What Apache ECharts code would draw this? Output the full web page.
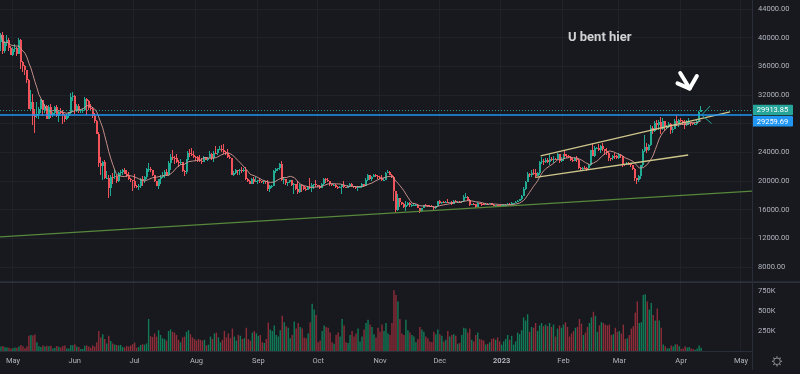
<!DOCTYPE html>
<html><head><meta charset="utf-8">
<script src="https://cdn.jsdelivr.net/npm/echarts@6/dist/echarts.min.js"></script>
<style>html,body{margin:0;padding:0;background:#17191e;}#c{width:800px;height:374px;}</style>
</head><body><div id="c"></div>
<script>
// ---- categories: one per day, index 0 = 2022-04-25, through 2023-05-06 ----
const startDate = '2022-04-25';
const dayCount = 377;
const monthNames = ['Jan','Feb','Mar','Apr','May','Jun','Jul','Aug','Sep','Oct','Nov','Dec'];

// ---- daily candles [open, high, low, close] ----
const apr22 = [[39450,40616,38200,40426],[40426,40797,37702,38112],[38112,39474,37881,39235],[39235,40372,38881,39742],[39742,39925,38175,38596],[38596,38795,37578,37630]];
const may22 = [[37630,38675,37386,38469],[38469,39167,38053,38529],[38529,38653,37500,37750],[37750,40023,37670,39690],[39690,39845,35571,36552],[36552,36675,35258,36013],[36013,36130,34785,35472],[35472,35514,33713,34039],[34039,34243,30033,30076],[30076,32658,29730,31017],[31017,32162,27785,29103],[29103,30033,26700,29030],[29030,31084,28751,29287],[29287,30343,28630,30080],[30080,31460,29480,31305],[31305,31319,29087,29862],[29862,30788,29450,30425],[30425,30663,28654,28715],[28715,30545,28693,30319],[30319,30777,28730,29201],[29201,29624,28947,29432],[29432,30487,29255,30323],[30323,30670,28866,29098],[29098,29835,28300,29655],[29655,30223,29294,29543],[29543,29850,28019,29201],[29201,29375,28261,28630],[28630,29310,28450,29031],[29031,29600,28832,29468],[29468,32222,29300,31734],[31734,32399,31216,31801]];
const jun22 = [[31801,31982,29300,29805],[29805,30690,29594,30452],[30452,30679,29500,29700],[29700,29950,29485,29865],[29865,30170,29520,29920],[29920,31765,29890,31373],[31373,31555,29219,31125],[31125,31327,29844,30204],[30204,30700,29946,30109],[30109,30392,28850,29091],[29091,29440,28100,28424],[28424,28544,26560,26574],[26574,26895,21925,22487],[22487,23363,20846,22136],[22136,22800,20111,22583],[22583,22984,20232,20401],[20401,21365,20246,20468],[20468,20792,17622,18970],[18970,20815,17960,20574],[20574,21090,19637,20573],[20573,21723,20348,20719],[20719,20897,19770,19987],[19987,21233,19890,21110],[21110,21558,20740,21237],[21237,21614,20906,21491],[21491,21868,21000,21038],[21038,21539,20500,20742],[20742,21200,20188,20281],[20281,20432,19854,20123],[20123,20179,18626,19942]];
const jul22 = [[19942,20918,18975,19279],[19279,19443,18966,19252],[19252,19647,18782,19315],[19315,20354,19055,20236],[20236,20750,19305,20175],[20175,20675,19761,20564],[20564,21838,20250,21624],[21624,22527,21189,21700],[21700,21955,21319,21592],[21592,21600,20646,20862],[20862,20868,19900,19963],[19963,20059,19240,19329],[19329,20250,18910,20213],[20213,20900,19616,20569],[20569,21200,20383,20836],[20836,21588,20476,21190],[21190,21684,20757,20779],[20779,22777,20762,22485],[22485,23800,21581,23389],[23389,24277,22906,23231],[23231,23440,22341,23164],[23164,23757,22500,22714],[22714,22999,21950,22465],[22465,23014,22257,22609],[22609,22667,21250,21361],[21361,21550,20706,21240],[21240,23112,21042,22933],[22933,24199,22582,23843],[23843,24442,23414,23804],[23804,24668,23502,23656],[23656,24194,23227,23336]];
const aug22 = [[23336,23509,22850,23314],[23314,23470,22664,22978],[22978,23648,22682,22846],[22846,23227,22435,22630],[22630,23465,22586,23313],[23313,23354,22909,22954],[22954,23402,22844,23175],[23175,24245,23154,23810],[23810,23933,22865,23149],[23149,24226,22664,23954],[23954,24918,23852,23934],[23934,24456,23583,24403],[24403,24888,24296,24441],[24441,25047,24111,24306],[24306,25212,23773,24103],[24103,24247,23671,23854],[23854,24446,23180,23342],[23342,23600,23111,23191],[23191,23208,20783,20834],[20834,21382,20761,21140],[21140,21692,21000,21516],[21516,21522,20890,21399],[21399,21684,20890,21529],[21529,21900,21145,21368],[21368,21819,21310,21559],[21559,21886,20107,20241],[20241,20406,19800,20037],[20037,20155,19520,19555],[19555,20433,19550,20285],[20285,20576,19540,19812],[19812,20490,19797,20050]];
const sep22 = [[20050,20208,19565,20131],[20131,20445,19755,19951],[19951,20056,19655,19832],[19832,20000,19600,19986],[19986,20058,19635,19812],[19812,20180,18648,18837],[18837,19464,18510,19290],[19290,19456,19000,19319],[19319,21500,19298,21361],[21361,21810,21111,21652],[21652,21860,21367,21826],[21826,22488,21538,22395],[22395,22799,20052,20173],[20173,20541,19617,20227],[20227,20330,19497,19701],[19701,19890,19320,19803],[19803,20189,19748,20113],[20113,20115,19338,19416],[19416,19689,18232,19537],[19537,19634,18711,18876],[18876,19956,18125,18461],[18461,19550,18356,19401],[19401,19500,18531,19289],[19289,19316,18805,18920],[18920,19180,18629,18807],[18807,19310,18680,19227],[19227,20385,18816,19079],[19079,19790,18471,19412],[19412,19645,18843,19591],[19591,20185,19155,19423]];
const oct22 = [[19423,19484,19160,19310],[19310,19395,18920,19056],[19056,19719,18959,19629],[19629,20475,19490,20337],[20337,20365,19730,20158],[20158,20456,19853,19960],[19960,20057,19320,19531],[19531,19628,19256,19417],[19417,19560,19316,19439],[19439,19526,19020,19131],[19131,19268,18860,19060],[19060,19238,18965,19155],[19155,19513,18190,19375],[19375,19951,19070,19176],[19176,19227,18975,19069],[19069,19425,19063,19262],[19262,19676,19160,19550],[19550,19706,19100,19334],[19334,19360,19064,19139],[19139,19347,18900,19053],[19053,19250,18650,19172],[19172,19250,19120,19208],[19208,19695,19070,19567],[19567,19601,19157,19345],[19345,20415,19243,20095],[20095,21020,20055,20771],[20771,20876,20200,20295],[20295,20750,20000,20595],[20595,20988,20560,20818],[20818,20930,20515,20635],[20635,20840,20237,20495]];
const nov22 = [[20495,20700,20348,20485],[20485,20800,20048,20159],[20159,20394,20031,20209],[20209,21302,20180,21148],[21148,21480,21080,21299],[21299,21365,20880,20905],[20905,20990,20386,20591],[20591,20700,17166,18547],[18547,18600,15588,15922],[15922,18136,15754,17601],[17601,17655,16361,17070],[17070,17099,16631,16813],[16813,16954,16229,16330],[16330,17190,15815,16619],[16619,17134,16527,16900],[16900,17015,16378,16662],[16662,16746,16408,16692],[16692,16984,16565,16700],[16700,16820,16560,16710],[16710,16743,16180,16280],[16280,16300,15476,15781],[15781,16253,15630,16226],[16226,16708,16168,16603],[16603,16812,16458,16598],[16598,16607,16355,16522],[16522,16666,16405,16459],[16459,16599,16399,16428],[16428,16485,15995,16213],[16213,16548,16102,16442],[16442,17249,16428,17163]];
const dec22 = [[17163,17320,16855,16977],[16977,17105,16787,17092],[17092,17154,16866,16885],[16885,17203,16878,17105],[17105,17424,16867,16966],[16966,17107,16906,17089],[17089,17142,16678,16836],[16836,17299,16733,17224],[17224,17360,17060,17128],[17128,17227,17092,17135],[17135,17270,17071,17105],[17105,17241,16872,17206],[17206,17990,17087,17776],[17776,18387,17660,17804],[17804,17847,17275,17356],[17356,17530,16527,16633],[16633,16796,16584,16776],[16776,16864,16663,16736],[16736,16815,16256,16439],[16439,17061,16397,16896],[16896,16925,16749,16824],[16824,16868,16559,16821],[16821,16955,16751,16778],[16778,16869,16776,16836],[16836,16865,16735,16832],[16832,16937,16780,16919],[16919,16972,16592,16707],[16707,16783,16465,16547],[16547,16664,16488,16633],[16633,16677,16333,16607],[16607,16644,16470,16542]];
const jan23 = [[16542,16630,16499,16617],[16617,16760,16548,16673],[16673,16781,16605,16675],[16675,16991,16652,16851],[16851,16879,16753,16831],[16831,17041,16679,16951],[16951,16975,16908,16955],[16955,17176,16911,17091],[17091,17398,17081,17196],[17196,17499,17162,17446],[17446,18000,17320,17934],[17934,19117,17910,18869],[18869,19964,18715,19930],[19930,21258,19889,20954],[20954,21050,20552,20871],[20871,21474,20611,21185],[21185,21647,20852,21132],[21132,21650,20407,20677],[20677,21193,20660,21071],[21071,22755,20873,22667],[22667,23371,22423,22783],[22783,23078,22292,22707],[22707,23165,22515,22917],[22917,23180,22462,22632],[22632,23816,22300,23060],[23060,23282,22850,23009],[23009,23500,22534,23074],[23074,23186,22878,23027],[23027,23955,22977,23743],[23743,23780,22500,22826],[22826,23320,22714,23125]];
const feb23 = [[23125,23812,22760,23732],[23732,24255,23363,23488],[23488,23715,23204,23431],[23431,23587,23253,23326],[23326,23433,22745,22932],[22932,23158,22628,22762],[22762,23350,22745,23240],[23240,23452,22665,22963],[22963,23011,21688,21796],[21796,21938,21451,21625],[21625,21906,21599,21862],[21862,22090,21631,21783],[21783,21890,21351,21773],[21773,22322,21532,22199],[22199,24380,22047,24324],[24324,25250,23505,23538],[23538,24876,23339,24566],[24566,24800,24443,24631],[24631,25121,24250,24271],[24271,25020,23861,24844],[24844,25250,24148,24452],[24452,24476,23575,24182],[24182,24599,23608,23940],[23940,24132,22841,23185],[23185,23219,22722,23157],[23157,23689,22959,23554],[23554,23880,23106,23492],[23492,23600,23020,23141]];
const mar23 = [[23141,23880,23021,23628],[23628,23780,23195,23465],[23465,23476,21971,22354],[22354,22410,22160,22346],[22346,22662,22237,22430],[22430,22603,22258,22410],[22410,22533,21927,22197],[22197,22269,21580,21705],[21705,21813,20043,20363],[20363,20367,19549,20188],[20188,20792,19900,20633],[20633,22185,20272,22163],[22163,24500,21918,24197],[24197,26386,24048,24746],[24746,25250,23930,24375],[24375,25198,24124,25055],[25055,27756,24890,27423],[27423,27725,26578,26965],[26965,28390,26880,28038],[28038,28528,27156,27767],[27767,28500,27124,28175],[28175,28868,26601,27307],[27307,28750,27155,28333],[28333,28400,27018,27493],[27493,27794,27260,27494],[27494,28200,27426,27994],[27994,28044,26550,27139],[27139,27500,26648,27268],[27268,28650,27241,28348],[28348,29184,27696,28033],[28033,28660,27525,28478]];
const apr23 = [[28478,28805,28220,28411],[28411,28532,27871,28199],[28199,28494,27220,27790],[27790,28444,27675,28169],[28169,28775,27806,28175],[28175,28190,27711,28044],[28044,28100,27766,27925],[27925,28175,27883,27947],[27947,28530,27800,28333],[28333,29770,28170,29652],[29652,30423,29600,29913.85]];

// ---- daily volume, thousands ----
const volApr22 = [55,62,48,45,40,30];
const volMay22 = [35,45,40,55,75,60,35,55,190,200,195,205,110,60,50,70,55,65,60,65,30,40,62,52,45,62,68,30,32,75,72];
const volJun22 = [85,55,50,25,25,65,70,55,40,70,55,110,250,170,210,150,95,190,125,95,80,75,70,75,50,45,65,55,70,85];
const volJul22 = [105,40,50,75,85,80,95,400,185,175,220,180,260,200,160,150,130,250,270,240,230,200,140,110,170,180,240,260,210,170,150];
const volAug22 = [130,150,140,130,140,70,80,180,150,220,230,170,110,140,250,170,220,160,280,180,130,200,190,150,160,290,150,130,230,250,220];
const volSep22 = [190,200,110,100,150,355,270,250,320,200,180,260,440,360,310,290,160,200,370,280,350,300,280,170,160,220,360,590,520,450];
const volOct22 = [110,130,250,320,300,290,230,110,90,200,230,180,400,320,110,100,200,250,180,220,280,120,180,270,350,390,330,300,210,170,290];
const volNov22 = [240,330,250,350,220,200,350,760,700,620,400,220,200,390,260,230,200,180,110,150,300,270,240,180,160,120,110,240,210,270];
const volDec22 = [210,190,120,140,250,180,200,210,190,90,100,200,290,280,230,280,140,120,200,230,150,140,130,80,90,110,150,160,140,170,120];
const volJan23 = [80,120,150,200,140,190,80,120,230,210,260,420,380,460,240,300,290,350,250,320,350,310,330,310,350,300,330,180,280,320,290];
const volFeb23 = [330,360,300,180,220,250,290,300,400,340,200,230,300,350,420,490,440,240,320,360,350,330,320,330,200,210,290,240];
const volMar23 = [250,220,330,150,160,200,280,310,480,620,350,360,700,710,620,520,600,450,380,530,380,290,80,60,30,35,70,55,80,85,60];
const volApr23 = [25,30,60,45,50,30,25,15,30,70,40];

// ---- axis ticks ----
const priceMin = 8000, priceMax = 44000, priceStep = 4000;
const hiddenPriceTicks = [28000];
const volMin = 0, volMax = 850, volStep = 250;

// ---- indicator / levels ----
const maPeriod = 10;
const lastPrice = 29913.85;
const userLevel = 29259.69;

// ---- drawings, x in day index (0 = 2022-04-25), y in price ----
const greenTrend = [[-0.5, 12190], [376.5, 18600]];
const channelUpper = [[270.5, 23490], [365.5, 29630]];
const channelLower = [[268, 20520], [344.5, 23630]];
const tealArms = [[355.5, 30465], [351.25, 29210], [356.25, 28020]];
const arrowShaft = [[340.5, 35070], [345.25, 32900]];
const arrowHead = [[339.15, 33630], [345.25, 32900], [348.85, 34650]];
const noteText = 'U bent hier';
const notePos = [284.0, 39950];

// ---------------------------------------------------------------
const categories = [];
{
  const p = startDate.split('-').map(Number);
  const t0 = Date.UTC(p[0], p[1] - 1, p[2]);
  for (let i = 0; i < dayCount; i++) {
    categories.push(new Date(t0 + i * 86400000).toISOString().slice(0, 10));
  }
}
const ohlc = [].concat(apr22, may22, jun22, jul22, aug22, sep22, oct22, nov22, dec22, jan23, feb23, mar23, apr23);
const vols = [].concat(volApr22, volMay22, volJun22, volJul22, volAug22, volSep22, volOct22, volNov22, volDec22, volJan23, volFeb23, volMar23, volApr23);
const closes = ohlc.map(d => d[3]);
const ma = closes.map((c, i) => {
  const s = Math.max(0, i - maPeriod + 1);
  let sum = 0;
  for (let k = s; k <= i; k++) sum += closes[k];
  return +(sum / (i - s + 1)).toFixed(2);
});

const UP = '#22ab94', DOWN = '#f2535a';
const UPV = '#127a57', DOWNV = '#8d2d39';
const TXT = '#b2b5be';
const GRID = '#1f2228';
const FONT = 'Roboto, "Liberation Sans", sans-serif';

const isMonthStart = (idx, val) => val.slice(8) === '01';

// candle snapped to its own 2-px band, drawn through the axis scales
function renderCandle(params, api) {
  const i = api.value(0);
  const o = api.value(1), h = api.value(2), l = api.value(3), c = api.value(4);
  const po = api.coord([i, o]), pc = api.coord([i, c]), ph = api.coord([i, h]), pl = api.coord([i, l]);
  const x0 = Math.round(po[0] - 1);
  const yTop = Math.round(Math.min(po[1], pc[1]));
  const yBot = Math.round(Math.max(po[1], pc[1]));
  const yh = Math.round(ph[1]), yl = Math.round(pl[1]);
  const color = c >= o ? UP : DOWN;
  return {
    type: 'group',
    children: [
      { type: 'rect', shape: { x: x0, y: yh, width: 1, height: Math.max(1, yl - yh) }, style: { fill: color } },
      { type: 'rect', shape: { x: x0, y: yTop, width: 2, height: Math.max(1, yBot - yTop) }, style: { fill: color } }
    ]
  };
}

const chart = echarts.init(document.getElementById('c'));
const lineS = (name, data, color, width, extra) => Object.assign({
  name, type: 'line', xAxisIndex: 3, yAxisIndex: 0, data,
  symbol: 'none', silent: true, animation: false,
  lineStyle: { color, width }
}, extra || {});

chart.setOption({
  backgroundColor: '#17191e',
  animation: false,
  textStyle: { fontFamily: FONT },
  grid: [
    { left: -2, right: 48, top: 9, height: 258 },
    { left: -2, right: 48, top: 283, height: 68 },
    { left: -2, right: 48, top: 0, height: 351 }
  ],
  xAxis: [
    { type: 'category', gridIndex: 0, data: categories, position: 'top', show: false },
    { type: 'category', gridIndex: 1, data: categories,
      axisLine: { show: true, lineStyle: { color: '#2a2e39', width: 1 } },
      axisTick: { show: false },
      splitLine: { show: false },
      axisLabel: {
        interval: isMonthStart, margin: 6, color: TXT, fontSize: 7.5, fontFamily: FONT,
        formatter: v => { const m = +v.slice(5, 7); return m === 1 ? '{y|' + v.slice(0, 4) + '}' : monthNames[m - 1]; },
        rich: { y: { fontWeight: 'bold', color: TXT, fontSize: 7.5, fontFamily: FONT } }
      }
    },
    { type: 'category', gridIndex: 2, data: categories,
      axisLine: { show: false }, axisTick: { show: false }, axisLabel: { show: false },
      splitLine: { show: true, interval: isMonthStart, lineStyle: { color: GRID, width: 1 } }
    },
    { type: 'value', gridIndex: 0, min: -0.5, max: dayCount - 0.5, position: 'bottom', show: false }
  ],
  yAxis: [
    { type: 'value', gridIndex: 0, position: 'right', min: priceMin, max: priceMax, interval: priceStep,
      axisLine: { show: false }, axisTick: { show: false },
      splitLine: { show: true, lineStyle: { color: GRID, width: 1 } },
      axisLabel: { margin: 6, color: TXT, fontSize: 7.5, fontFamily: FONT,
        formatter: v => hiddenPriceTicks.includes(v) ? '' : v.toFixed(2) }
    },
    { type: 'value', gridIndex: 1, position: 'right', min: volMin, max: volMax, interval: volStep,
      axisLine: { show: false }, axisTick: { show: false }, splitLine: { show: false },
      axisLabel: { margin: 6, color: TXT, fontSize: 7.5, fontFamily: FONT, showMaxLabel: false,
        formatter: v => v === 0 ? '' : v + 'K' }
    },
    { type: 'value', gridIndex: 2, show: false, min: 0, max: 1 }
  ],
  series: [
    lineS('greenTrend', greenTrend, '#57883b', 1.3),
    {
      name: 'price', type: 'custom', xAxisIndex: 0, yAxisIndex: 0,
      renderItem: renderCandle,
      encode: { x: 0, y: [1, 2, 3, 4] },
      data: ohlc.map((d, i) => [i, d[0], d[1], d[2], d[3]]),
      z: 2,
      markLine: {
        silent: true, symbol: ['none', 'none'], animation: false, label: { show: false },
        data: [
          { yAxis: lastPrice, lineStyle: { color: '#26a69a', type: [1, 2], width: 1, opacity: 0.9 } },
          { yAxis: userLevel, lineStyle: { color: '#2196f3', type: 'solid', width: 1.5 } }
        ]
      }
    },
    { name: 'MA', type: 'line', xAxisIndex: 0, yAxisIndex: 0, data: ma, symbol: 'none',
      lineStyle: { color: '#d49a93', width: 1, opacity: 0.9 }, z: 3 },
    { name: 'volume', type: 'bar', xAxisIndex: 1, yAxisIndex: 1, barWidth: 1.4,
      data: vols.map((v, i) => ({ value: v, itemStyle: { color: ohlc[i][3] >= ohlc[i][0] ? UPV : DOWNV } })) },
    lineS('channelUpper', channelUpper, '#cfc68c', 1.3),
    lineS('channelLower', channelLower, '#cfc68c', 1.3),
    lineS('tealArms', tealArms, '#26a69a', 1),
    lineS('arrowShaft', arrowShaft, '#ffffff', 4, { lineStyle: { color: '#ffffff', width: 4, cap: 'round', join: 'round' } }),
    lineS('arrowHead', arrowHead, '#ffffff', 4, { lineStyle: { color: '#ffffff', width: 4, cap: 'round', join: 'round' } }),
    { name: 'note', type: 'scatter', xAxisIndex: 3, yAxisIndex: 0, data: [notePos], symbolSize: 1,
      itemStyle: { color: 'rgba(0,0,0,0)' }, silent: true, z: 10,
      label: { show: true, position: 'right', distance: 0, formatter: noteText,
        color: '#ffffff', fontSize: 13, fontWeight: 'bold', fontFamily: FONT } }
  ]
});

// price scale labels and chrome
const yLast = chart.convertToPixel({ yAxisIndex: 0 }, lastPrice);
const yUserRaw = chart.convertToPixel({ yAxisIndex: 0 }, userLevel);
const boxH = 10.5;
const yUser = Math.max(yUserRaw, yLast + boxH + 0.9);
const priceBox = (yc, fill, text) => ({
  type: 'group', z: 100, children: [
    { type: 'rect', shape: { x: 752, y: yc - boxH / 2, width: 41, height: boxH, r: 1 }, style: { fill } },
    { type: 'text', x: 772.5, y: yc + 0.3, style: { text, fill: '#ffffff', font: '7.5px ' + FONT, align: 'center', verticalAlign: 'middle' } }
  ]
});
const gear = [];
gear.push({ type: 'circle', shape: { cx: 777, cy: 361.3, r: 3.3 }, style: { fill: 'none', stroke: '#8b8e97', lineWidth: 1 } });
for (let k = 0; k < 8; k++) {
  const a = k * Math.PI / 4;
  gear.push({ type: 'line', shape: { x1: 777 + 3.6 * Math.cos(a), y1: 361.3 + 3.6 * Math.sin(a), x2: 777 + 5.1 * Math.cos(a), y2: 361.3 + 5.1 * Math.sin(a) }, style: { stroke: '#8b8e97', lineWidth: 1.2 } });
}
chart.setOption({
  graphic: [
    { type: 'rect', z: 50, shape: { x: 0, y: 281.5, width: 800, height: 1.2 }, style: { fill: '#363a45' } },
    { type: 'rect', z: 50, shape: { x: 752, y: 0, width: 1, height: 370 }, style: { fill: '#2a2e39' } },
    priceBox(yLast, '#26a69a', lastPrice.toFixed(2)),
    priceBox(yUser, '#2196f3', userLevel.toFixed(2)),
    { type: 'group', z: 60, children: gear }
  ]
});
</script></body></html>
